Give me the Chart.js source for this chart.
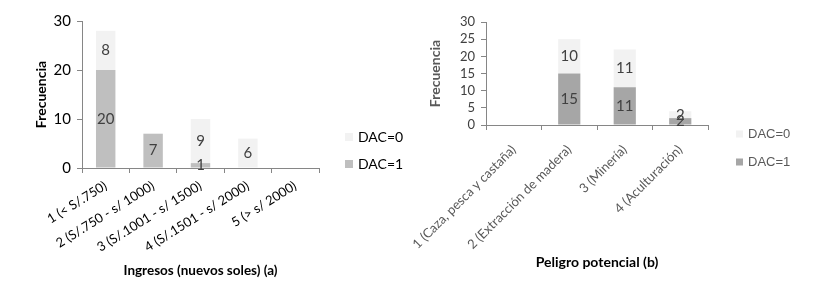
<!DOCTYPE html>
<html>
<head>
<meta charset="utf-8">
<script src="https://cdn.jsdelivr.net/npm/chart.js@4.4.1/dist/chart.umd.min.js"></script>
<style>
  body { margin: 0; background: #fff; }
  #wrap { position: relative; width: 826px; height: 284px; }
  .box { position: absolute; top: 0; width: 413px; height: 284px; }
</style>
</head>
<body>
<div id="wrap">
  <div class="box" style="left:0"><canvas id="chart-a"></canvas></div>
  <div class="box" style="left:413px"><canvas id="chart-b"></canvas></div>
</div>
<script>
// chart (a) - ingresos
const ingresosLabels = ['1 (< S/.750)', '2 (S/.750 - s/ 1000)', '3 (S/.1001 - s/ 1500)', '4 (S/.1501 - s/ 2000)', '5 (> s/ 2000)'];
const ingresosDac1 = [20, 7, 1, 0, 0];
const ingresosDac0 = [8, 0, 9, 6, 0];
const ingresosTicks = [0, 10, 20, 30];

// chart (b) - peligro potencial
const peligroLabels = ['1 (Caza, pesca y castaña)', '2 (Extracción de madera)', '3 (Minería)', '4 (Aculturación)'];
const peligroDac1 = [0, 15, 11, 2];
const peligroDac0 = [0, 10, 11, 2];
const peligroTicks = [0, 5, 10, 15, 20, 25, 30];

const font = 'Lato';

// numbers in the middle of each bar piece
const valueLabels = {
    id: 'valueLabels',
    afterDatasetsDraw(chart, args, opts) {
        const ctx = chart.ctx;
        ctx.save();
        ctx.font = opts.font;
        ctx.fillStyle = opts.color;
        ctx.textAlign = 'center';
        ctx.textBaseline = 'middle';
        chart.data.datasets.forEach((ds, i) => {
            chart.getDatasetMeta(i).data.forEach((bar, j) => {
                if (!ds.data[j]) return;
                ctx.fillText(ds.data[j], bar.x, (bar.y + bar.base) / 2);
            });
        });
        ctx.restore();
    }
};

// legend drawn by hand, top entry = last dataset
const sideLegend = {
    id: 'sideLegend',
    afterDraw(chart, args, opts) {
        const ctx = chart.ctx;
        ctx.save();
        ctx.font = opts.font;
        ctx.textBaseline = 'middle';
        const list = chart.data.datasets.slice().reverse();
        list.forEach((ds, i) => {
            const y = opts.y + i * opts.gap;
            ctx.fillStyle = ds.backgroundColor;
            ctx.fillRect(opts.x, y - opts.box / 2, opts.box, opts.box);
            ctx.fillStyle = opts.color;
            ctx.fillText(ds.label, opts.x + opts.box + 5, y);
        });
        ctx.restore();
    }
};

function makeChart(canvas, cfg) {
    return new Chart(canvas.getContext('2d'), {
        type: 'bar',
        data: {
            labels: cfg.labels,
            datasets: [
                { label: 'DAC=1', data: cfg.dac1, backgroundColor: cfg.dark, barPercentage: 1, categoryPercentage: cfg.barPct },
                { label: 'DAC=0', data: cfg.dac0, backgroundColor: '#f2f2f2', barPercentage: 1, categoryPercentage: cfg.barPct }
            ]
        },
        options: {
            responsive: true,
            maintainAspectRatio: false,
            animation: false,
            layout: { padding: cfg.padding },
            plugins: {
                legend: { display: false },
                tooltip: { enabled: false },
                valueLabels: { font: '15px ' + font, color: '#404040' },
                sideLegend: cfg.legend
            },
            scales: {
                x: {
                    stacked: true,
                    // let the slanted labels run past the edge, like the original
                    afterFit: s => { s.height = cfg.xHeight; s.paddingLeft = 0; s.paddingRight = 0; },
                    border: { color: '#868686' },
                    grid: { drawOnChartArea: false, tickLength: 5, color: '#868686', offset: true },
                    ticks: {
                        minRotation: cfg.rot, maxRotation: cfg.rot, autoSkip: false,
                        color: cfg.tickColor, font: { family: font, size: 13 }, padding: cfg.xPad
                    },
                    title: {
                        display: true, text: cfg.xTitle, color: '#000',
                        font: { family: font, size: cfg.xTitleSize, weight: 'bold' }, padding: 0
                    }
                },
                y: {
                    stacked: true,
                    min: 0,
                    max: 30,
                    afterFit: s => { s.width = cfg.yWidth; },
                    afterBuildTicks: s => { s.ticks = cfg.ticks.map(v => ({ value: v })); },
                    border: { color: '#868686' },
                    grid: { drawOnChartArea: false, tickLength: 5, color: '#868686' },
                    ticks: { autoSkip: false, color: cfg.yTickColor, font: { family: font, size: cfg.yTickSize }, padding: 6 },
                    title: {
                        display: true, text: 'Frecuencia', color: cfg.yTitleColor,
                        font: { family: font, size: 14, weight: 'bold' }, padding: 0
                    }
                }
            }
        },
        plugins: [valueLabels, sideLegend]
    });
}

makeChart(document.querySelector('#chart-a'), {
    labels: ingresosLabels, dac1: ingresosDac1, dac0: ingresosDac0, ticks: ingresosTicks,
    dark: '#bfbfbf', barPct: 0.41, rot: 32, xPad: 5,
    padding: { left: 33, right: 94, top: 21, bottom: 5 },
    xHeight: 111, yWidth: 49,
    tickColor: '#000', yTickColor: '#000', yTitleColor: '#000', yTickSize: 15, xTitleSize: 13.5,
    xTitle: 'Ingresos (nuevos soles) (a)',
    legend: { x: 345, y: 137, gap: 27, box: 8, font: '14px ' + font, color: '#000' }
});

makeChart(document.querySelector('#chart-b'), {
    labels: peligroLabels, dac1: peligroDac1, dac0: peligroDac0, ticks: peligroTicks,
    dark: '#a6a6a6', barPct: 0.4, rot: 45, xPad: 12,
    padding: { left: 14, right: 118, top: 22, bottom: 13 },
    xHeight: 146, yWidth: 59,
    tickColor: '#595959', yTickColor: '#404040', yTitleColor: '#595959', yTickSize: 13, xTitleSize: 14,
    xTitle: 'Peligro potencial (b)',
    legend: { x: 323, y: 134, gap: 28, box: 7, font: '13px "Liberation Sans"', color: '#595959' }
});
</script>
</body>
</html>
